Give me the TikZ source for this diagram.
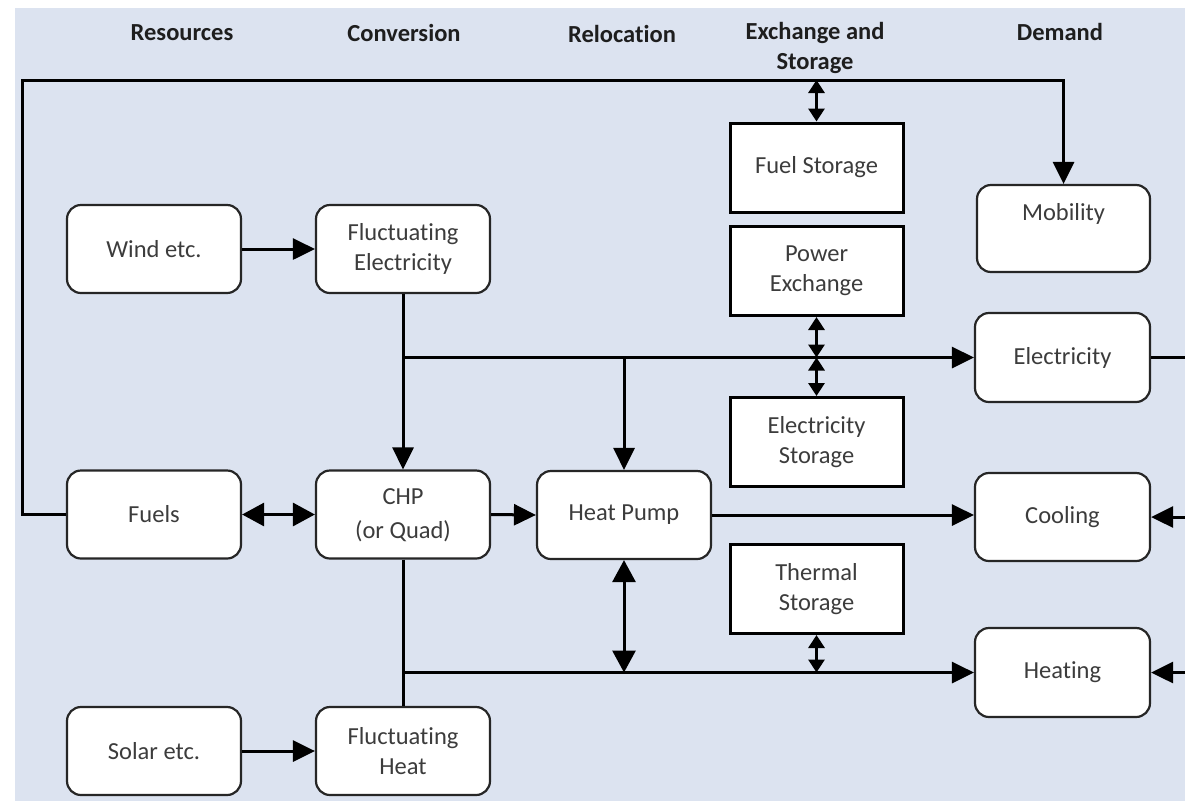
\documentclass[tikz,border=0pt]{standalone}
\usepackage{fontspec}
\setmainfont[Ligatures=NoCommon]{Carlito}
\usetikzlibrary{arrows.meta}
\definecolor{bgblue}{RGB}{220,227,240}
\definecolor{txtgray}{RGB}{60,60,60}
\definecolor{hdr}{RGB}{30,30,30}
\newcommand\bxfont{\fontsize{24.5}{30}\selectfont}
\newcommand\hdfont{\fontsize{24.5}{30}\selectfont\bfseries}
\begin{document}
\begin{tikzpicture}[x=1pt,y=-1pt,
  rbox/.style={draw=black!85, line width=2.2pt, rounded corners=14pt, fill=white,
    minimum width=174pt, minimum height=88pt, align=center, font=\bxfont, text=txtgray, inner sep=0pt},
  sbox/.style={draw=black, line width=3pt, fill=white,
    minimum width=173pt, minimum height=89pt, align=center, font=\bxfont, text=txtgray, inner sep=0pt},
  hdr/.style={font=\hdfont, text=hdr, align=center},
  conn/.style={line width=3pt, draw=black},
  bigarr/.style={conn, -{Triangle[length=22pt,width=21pt]}},
  bigdbl/.style={conn, {Triangle[length=22pt,width=23pt]}-{Triangle[length=22pt,width=23pt]}},
  smalldbl/.style={conn, {Triangle[length=13pt,width=16pt]}-{Triangle[length=13pt,width=16pt]}}
]
\useasboundingbox (0,0) rectangle (1185,801);
\fill[bgblue] (15,8) rectangle (1185,801);

% headers
\node[hdr] (h1) at (182,33) {Resources};
\node[hdr] (h2) at (404,33) {Conversion};
\node[hdr] (h3) at (622,34) {Relocation};
\node[hdr] (h4) at (815,48) {Exchange and\\Storage};
\node[hdr] (h5) at (1060,32) {Demand};

% nodes
\node[rbox] (wind) at (154,249) {Wind etc.};
\node[rbox] (fe) at (403,249) {Fluctuating\\Electricity};
\node[rbox] (fuels) at (154,514.5) {Fuels};
\node[rbox, font=\fontsize{24.5}{34}\selectfont] (chp) at (403,514.5) {\raisebox{-5pt}{\begin{tabular}{@{}c@{}}CHP\\(or Quad)\end{tabular}}};
\node[rbox] (hp) at (624,515) {Heat Pump};
\node[rbox] (solar) at (154,751) {Solar etc.};
\node[rbox] (fh) at (403,751) {Fluctuating\\Heat};

\node[sbox] (fs) at (816.5,167.5) {Fuel Storage};
\node[sbox] (pe) at (816.5,271) {Power\\Exchange};
\node[sbox] (es) at (816.5,442) {Electricity\\Storage};
\node[sbox] (ts) at (816.5,589) {Thermal\\Storage};

\node[rbox, minimum width=173pt, minimum height=87pt] (mob) at (1063.5,228.5) {Mobility\\[-5pt]\strut};
\node[rbox, minimum width=175pt, minimum height=89pt] (elec) at (1062.5,357.5) {Electricity};
\node[rbox, minimum width=175pt] (cool) at (1062.5,517) {Cooling};
\node[rbox, minimum width=175pt, minimum height=89pt] (heat) at (1062.5,672.5) {Heating};

% coordinates
\coordinate (tl) at (22,80);
\coordinate (r1) at (1186,357.5);
\coordinate (r2) at (1186,517);
\coordinate (r3) at (1186,672.5);

% connectors
\draw[bigarr] (fuels.west) -| (tl) -| (mob.north);
\draw[smalldbl] (fs.north |- tl) -- (fs.north);
\draw[bigarr] (wind.east) -- (fe.west);
\draw[bigarr] (solar.east) -- (fh.west);
\draw[bigdbl] (fuels.east) -- (chp.west);
\draw[bigarr] (chp.east) -- (hp.west);
\draw[bigarr] (hp.east) -- (hp.east -| cool.west);
\draw[bigarr] (fe.south) -- (chp.north);
\draw[bigarr] (fe.south |- elec.west) -- (elec.west);
\draw[bigarr] (hp.north |- elec.west) -- (hp.north);
\draw[smalldbl] (pe.south) -- (pe.south |- elec.west);
\draw[smalldbl] (pe.south |- elec.west) -- (es.north);
\draw[conn] (chp.south) -- (fh.north);
\draw[bigarr] (chp.south |- heat.west) -- (heat.west);
\draw[bigdbl] (hp.south) -- (hp.south |- heat.west);
\draw[smalldbl] (ts.south) -- (ts.south |- heat.west);
\draw[conn] (elec.east) -- (r1);
\draw[bigarr] (r2) -- (cool.east);
\draw[bigarr] (r3) -- (heat.east);
\end{tikzpicture}
\end{document}
